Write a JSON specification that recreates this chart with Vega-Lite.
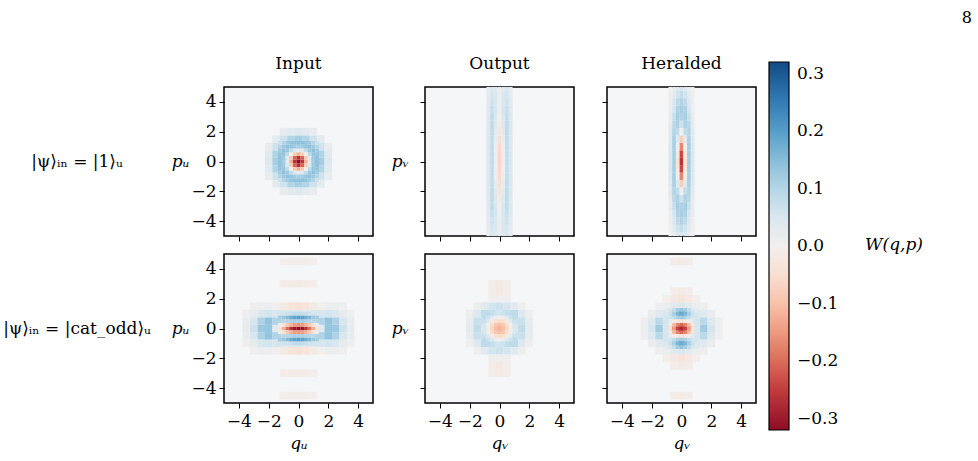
{
"$schema":"https://vega.github.io/schema/vega-lite/v6.json",
"padding":{"left":0,"top":10,"right":0,"bottom":0},
"title":{"text":"8","anchor":"end","fontSize":16,"dx":38,"offset":28},
"datasets":{
"a":[
{"q":-2,"p":0,"w":0.041},{"q":-1.5,"p":0,"w":0.117},{"q":-1,"p":0,"w":0.117},{"q":1,"p":0,"w":0.117},{"q":1.5,"p":0,"w":0.117},{"q":2,"p":0,"w":0.041},
{"q":-2,"p":0.5,"w":0.034},{"q":-1.5,"p":0.5,"w":0.104},{"q":1.5,"p":0.5,"w":0.104},{"q":2,"p":0.5,"w":0.034},
{"q":-2,"p":-0.5,"w":0.034},{"q":-1.5,"p":-0.5,"w":0.104},{"q":1.5,"p":-0.5,"w":0.104},{"q":2,"p":-0.5,"w":0.034},
{"q":-2,"p":1,"w":0.019},{"q":-1.5,"p":1,"w":0.068},{"q":1.5,"p":1,"w":0.068},{"q":2,"p":1,"w":0.019},
{"q":-2,"p":-1,"w":0.019},{"q":-1.5,"p":-1,"w":0.068},{"q":1.5,"p":-1,"w":0.068},{"q":2,"p":-1,"w":0.019},
{"q":-1.5,"p":1.5,"w":0.028},{"q":-1,"p":1.5,"w":0.068},{"q":-0.5,"p":1.5,"w":0.104},{"q":0,"p":1.5,"w":0.117},{"q":0.5,"p":1.5,"w":0.104},{"q":1,"p":1.5,"w":0.068},{"q":1.5,"p":1.5,"w":0.028},
{"q":-1.5,"p":-1.5,"w":0.028},{"q":-1,"p":-1.5,"w":0.068},{"q":-0.5,"p":-1.5,"w":0.104},{"q":0,"p":-1.5,"w":0.117},{"q":0.5,"p":-1.5,"w":0.104},{"q":1,"p":-1.5,"w":0.068},{"q":1.5,"p":-1.5,"w":0.028},
{"q":-1,"p":2,"w":0.019},{"q":-0.5,"p":2,"w":0.034},{"q":0,"p":2,"w":0.041},{"q":0.5,"p":2,"w":0.034},{"q":1,"p":2,"w":0.019},
{"q":-1,"p":-2,"w":0.019},{"q":-0.5,"p":-2,"w":0.034},{"q":0,"p":-2,"w":0.041},{"q":0.5,"p":-2,"w":0.034},{"q":1,"p":-2,"w":0.019}
],
"a2":[
{"q":-1.25,"p":0,"w":0.142},{"q":-1,"p":0,"w":0.117},{"q":-0.75,"p":0,"w":0.023},{"q":-0.5,"p":0,"w":-0.124},{"q":-0.25,"p":0,"w":-0.262},{"q":0,"p":0,"w":-0.318},{"q":0.25,"p":0,"w":-0.262},{"q":0.5,"p":0,"w":-0.124},{"q":0.75,"p":0,"w":0.023},{"q":1,"p":0,"w":0.117},{"q":1.25,"p":0,"w":0.142},
{"q":-1.25,"p":0.25,"w":0.141},{"q":-1,"p":0.25,"w":0.124},{"q":-0.75,"p":0.25,"w":0.043},{"q":-0.5,"p":0.25,"w":-0.087},{"q":-0.25,"p":0.25,"w":-0.211},{"q":0,"p":0.25,"w":-0.262},{"q":0.25,"p":0.25,"w":-0.211},{"q":0.5,"p":0.25,"w":-0.087},{"q":0.75,"p":0.25,"w":0.043},{"q":1,"p":0.25,"w":0.124},{"q":1.25,"p":0.25,"w":0.141},
{"q":-1.25,"p":-0.25,"w":0.141},{"q":-1,"p":-0.25,"w":0.124},{"q":-0.75,"p":-0.25,"w":0.043},{"q":-0.5,"p":-0.25,"w":-0.087},{"q":-0.25,"p":-0.25,"w":-0.211},{"q":0,"p":-0.25,"w":-0.262},{"q":0.25,"p":-0.25,"w":-0.211},{"q":0.5,"p":-0.25,"w":-0.087},{"q":0.75,"p":-0.25,"w":0.043},{"q":1,"p":-0.25,"w":0.124},{"q":1.25,"p":-0.25,"w":0.141},
{"q":-1.25,"p":0.5,"w":0.136},{"q":-1,"p":0.5,"w":0.137},{"q":-0.75,"p":0.5,"w":0.088},{"q":-0.5,"p":0.5,"w":0},{"q":-0.25,"p":0.5,"w":-0.087},{"q":0,"p":0.5,"w":-0.124},{"q":0.25,"p":0.5,"w":-0.087},{"q":0.5,"p":0.5,"w":0},{"q":0.75,"p":0.5,"w":0.088},{"q":1,"p":0.5,"w":0.137},{"q":1.25,"p":0.5,"w":0.136},
{"q":-1.25,"p":-0.5,"w":0.136},{"q":-1,"p":-0.5,"w":0.137},{"q":-0.75,"p":-0.5,"w":0.088},{"q":-0.5,"p":-0.5,"w":0},{"q":-0.25,"p":-0.5,"w":-0.087},{"q":0,"p":-0.5,"w":-0.124},{"q":0.25,"p":-0.5,"w":-0.087},{"q":0.5,"p":-0.5,"w":0},{"q":0.75,"p":-0.5,"w":0.088},{"q":1,"p":-0.5,"w":0.137},{"q":1.25,"p":-0.5,"w":0.136},
{"q":-1.25,"p":0.75,"w":0.124},{"q":-1,"p":0.75,"w":0.142},{"q":-0.75,"p":0.75,"w":0.129},{"q":-0.5,"p":0.75,"w":0.088},{"q":-0.25,"p":0.75,"w":0.043},{"q":0,"p":0.75,"w":0.023},{"q":0.25,"p":0.75,"w":0.043},{"q":0.5,"p":0.75,"w":0.088},{"q":0.75,"p":0.75,"w":0.129},{"q":1,"p":0.75,"w":0.142},{"q":1.25,"p":0.75,"w":0.124},
{"q":-1.25,"p":-0.75,"w":0.124},{"q":-1,"p":-0.75,"w":0.142},{"q":-0.75,"p":-0.75,"w":0.129},{"q":-0.5,"p":-0.75,"w":0.088},{"q":-0.25,"p":-0.75,"w":0.043},{"q":0,"p":-0.75,"w":0.023},{"q":0.25,"p":-0.75,"w":0.043},{"q":0.5,"p":-0.75,"w":0.088},{"q":0.75,"p":-0.75,"w":0.129},{"q":1,"p":-0.75,"w":0.142},{"q":1.25,"p":-0.75,"w":0.124},
{"q":-1.25,"p":1,"w":0.101},{"q":-1,"p":1,"w":0.129},{"q":-0.75,"p":1,"w":0.142},{"q":-0.5,"p":1,"w":0.137},{"q":-0.25,"p":1,"w":0.124},{"q":0,"p":1,"w":0.117},{"q":0.25,"p":1,"w":0.124},{"q":0.5,"p":1,"w":0.137},{"q":0.75,"p":1,"w":0.142},{"q":1,"p":1,"w":0.129},{"q":1.25,"p":1,"w":0.101},
{"q":-1.25,"p":-1,"w":0.101},{"q":-1,"p":-1,"w":0.129},{"q":-0.75,"p":-1,"w":0.142},{"q":-0.5,"p":-1,"w":0.137},{"q":-0.25,"p":-1,"w":0.124},{"q":0,"p":-1,"w":0.117},{"q":0.25,"p":-1,"w":0.124},{"q":0.5,"p":-1,"w":0.137},{"q":0.75,"p":-1,"w":0.142},{"q":1,"p":-1,"w":0.129},{"q":1.25,"p":-1,"w":0.101},
{"q":-1.25,"p":1.25,"w":0.073},{"q":-1,"p":1.25,"w":0.101},{"q":-0.75,"p":1.25,"w":0.124},{"q":-0.5,"p":1.25,"w":0.136},{"q":-0.25,"p":1.25,"w":0.141},{"q":0,"p":1.25,"w":0.142},{"q":0.25,"p":1.25,"w":0.141},{"q":0.5,"p":1.25,"w":0.136},{"q":0.75,"p":1.25,"w":0.124},{"q":1,"p":1.25,"w":0.101},{"q":1.25,"p":1.25,"w":0.073},
{"q":-1.25,"p":-1.25,"w":0.073},{"q":-1,"p":-1.25,"w":0.101},{"q":-0.75,"p":-1.25,"w":0.124},{"q":-0.5,"p":-1.25,"w":0.136},{"q":-0.25,"p":-1.25,"w":0.141},{"q":0,"p":-1.25,"w":0.142},{"q":0.25,"p":-1.25,"w":0.141},{"q":0.5,"p":-1.25,"w":0.136},{"q":0.75,"p":-1.25,"w":0.124},{"q":1,"p":-1.25,"w":0.101},{"q":1.25,"p":-1.25,"w":0.073}
],
"b":[
{"q":-0.75,"p":0,"w":0.047},{"q":-0.5,"p":0,"w":0.084},{"q":-0.25,"p":0,"w":0.006},{"q":0,"p":0,"w":-0.07},{"q":0.25,"p":0,"w":0.006},{"q":0.5,"p":0,"w":0.084},{"q":0.75,"p":0,"w":0.047},
{"q":-0.75,"p":0.5,"w":0.047},{"q":-0.5,"p":0.5,"w":0.084},{"q":-0.25,"p":0.5,"w":0.008},{"q":0,"p":0.5,"w":-0.068},{"q":0.25,"p":0.5,"w":0.008},{"q":0.5,"p":0.5,"w":0.084},{"q":0.75,"p":0.5,"w":0.047},
{"q":-0.75,"p":-0.5,"w":0.047},{"q":-0.5,"p":-0.5,"w":0.084},{"q":-0.25,"p":-0.5,"w":0.008},{"q":0,"p":-0.5,"w":-0.068},{"q":0.25,"p":-0.5,"w":0.008},{"q":0.5,"p":-0.5,"w":0.084},{"q":0.75,"p":-0.5,"w":0.047},
{"q":-0.75,"p":1,"w":0.047},{"q":-0.5,"p":1,"w":0.084},{"q":-0.25,"p":1,"w":0.012},{"q":0,"p":1,"w":-0.062},{"q":0.25,"p":1,"w":0.012},{"q":0.5,"p":1,"w":0.084},{"q":0.75,"p":1,"w":0.047},
{"q":-0.75,"p":-1,"w":0.047},{"q":-0.5,"p":-1,"w":0.084},{"q":-0.25,"p":-1,"w":0.012},{"q":0,"p":-1,"w":-0.062},{"q":0.25,"p":-1,"w":0.012},{"q":0.5,"p":-1,"w":0.084},{"q":0.75,"p":-1,"w":0.047},
{"q":-0.75,"p":1.5,"w":0.046},{"q":-0.5,"p":1.5,"w":0.085},{"q":-0.25,"p":1.5,"w":0.022},{"q":0,"p":1.5,"w":-0.05},{"q":0.25,"p":1.5,"w":0.022},{"q":0.5,"p":1.5,"w":0.085},{"q":0.75,"p":1.5,"w":0.046},
{"q":-0.75,"p":-1.5,"w":0.046},{"q":-0.5,"p":-1.5,"w":0.085},{"q":-0.25,"p":-1.5,"w":0.022},{"q":0,"p":-1.5,"w":-0.05},{"q":0.25,"p":-1.5,"w":0.022},{"q":0.5,"p":-1.5,"w":0.085},{"q":0.75,"p":-1.5,"w":0.046},
{"q":-0.75,"p":2,"w":0.046},{"q":-0.5,"p":2,"w":0.086},{"q":-0.25,"p":2,"w":0.032},{"q":0,"p":2,"w":-0.035},{"q":0.25,"p":2,"w":0.032},{"q":0.5,"p":2,"w":0.086},{"q":0.75,"p":2,"w":0.046},
{"q":-0.75,"p":-2,"w":0.046},{"q":-0.5,"p":-2,"w":0.086},{"q":-0.25,"p":-2,"w":0.032},{"q":0,"p":-2,"w":-0.035},{"q":0.25,"p":-2,"w":0.032},{"q":0.5,"p":-2,"w":0.086},{"q":0.75,"p":-2,"w":0.046},
{"q":-0.75,"p":2.5,"w":0.043},{"q":-0.5,"p":2.5,"w":0.086},{"q":-0.25,"p":2.5,"w":0.043},{"q":0,"p":2.5,"w":-0.018},{"q":0.25,"p":2.5,"w":0.043},{"q":0.5,"p":2.5,"w":0.086},{"q":0.75,"p":2.5,"w":0.043},
{"q":-0.75,"p":-2.5,"w":0.043},{"q":-0.5,"p":-2.5,"w":0.086},{"q":-0.25,"p":-2.5,"w":0.043},{"q":0,"p":-2.5,"w":-0.018},{"q":0.25,"p":-2.5,"w":0.043},{"q":0.5,"p":-2.5,"w":0.086},{"q":0.75,"p":-2.5,"w":0.043},
{"q":-0.75,"p":3,"w":0.041},{"q":-0.5,"p":3,"w":0.084},{"q":-0.25,"p":3,"w":0.05},{"q":0,"p":3,"w":-0.005},{"q":0.25,"p":3,"w":0.05},{"q":0.5,"p":3,"w":0.084},{"q":0.75,"p":3,"w":0.041},
{"q":-0.75,"p":-3,"w":0.041},{"q":-0.5,"p":-3,"w":0.084},{"q":-0.25,"p":-3,"w":0.05},{"q":0,"p":-3,"w":-0.005},{"q":0.25,"p":-3,"w":0.05},{"q":0.5,"p":-3,"w":0.084},{"q":0.75,"p":-3,"w":0.041},
{"q":-0.75,"p":3.5,"w":0.037},{"q":-0.5,"p":3.5,"w":0.077},{"q":-0.25,"p":3.5,"w":0.052},{"q":0,"p":3.5,"w":0.006},{"q":0.25,"p":3.5,"w":0.052},{"q":0.5,"p":3.5,"w":0.077},{"q":0.75,"p":3.5,"w":0.037},
{"q":-0.75,"p":-3.5,"w":0.037},{"q":-0.5,"p":-3.5,"w":0.077},{"q":-0.25,"p":-3.5,"w":0.052},{"q":0,"p":-3.5,"w":0.006},{"q":0.25,"p":-3.5,"w":0.052},{"q":0.5,"p":-3.5,"w":0.077},{"q":0.75,"p":-3.5,"w":0.037},
{"q":-0.75,"p":4,"w":0.032},{"q":-0.5,"p":4,"w":0.068},{"q":-0.25,"p":4,"w":0.049},{"q":0,"p":4,"w":0.012},{"q":0.25,"p":4,"w":0.049},{"q":0.5,"p":4,"w":0.068},{"q":0.75,"p":4,"w":0.032},
{"q":-0.75,"p":-4,"w":0.032},{"q":-0.5,"p":-4,"w":0.068},{"q":-0.25,"p":-4,"w":0.049},{"q":0,"p":-4,"w":0.012},{"q":0.25,"p":-4,"w":0.049},{"q":0.5,"p":-4,"w":0.068},{"q":0.75,"p":-4,"w":0.032},
{"q":-0.75,"p":4.5,"w":0.026},{"q":-0.5,"p":4.5,"w":0.058},{"q":-0.25,"p":4.5,"w":0.044},{"q":0,"p":4.5,"w":0.014},{"q":0.25,"p":4.5,"w":0.044},{"q":0.5,"p":4.5,"w":0.058},{"q":0.75,"p":4.5,"w":0.026},
{"q":-0.75,"p":-4.5,"w":0.026},{"q":-0.5,"p":-4.5,"w":0.058},{"q":-0.25,"p":-4.5,"w":0.044},{"q":0,"p":-4.5,"w":0.014},{"q":0.25,"p":-4.5,"w":0.044},{"q":0.5,"p":-4.5,"w":0.058},{"q":0.75,"p":-4.5,"w":0.026},
{"q":-0.75,"p":5,"w":0.023},{"q":-0.5,"p":5,"w":0.049},{"q":-0.25,"p":5,"w":0.04},{"q":0,"p":5,"w":0.014},{"q":0.25,"p":5,"w":0.04},{"q":0.5,"p":5,"w":0.049},{"q":0.75,"p":5,"w":0.023},
{"q":-0.75,"p":-5,"w":0.023},{"q":-0.5,"p":-5,"w":0.049},{"q":-0.25,"p":-5,"w":0.04},{"q":0,"p":-5,"w":0.014},{"q":0.25,"p":-5,"w":0.04},{"q":0.5,"p":-5,"w":0.049},{"q":0.75,"p":-5,"w":0.023}
],
"c":[
{"q":-0.75,"p":0,"w":0.047},{"q":-0.5,"p":0,"w":0.116},{"q":-0.25,"p":0,"w":-0.039},{"q":0,"p":0,"w":-0.261},{"q":0.25,"p":0,"w":-0.039},{"q":0.5,"p":0,"w":0.116},{"q":0.75,"p":0,"w":0.047},
{"q":-0.75,"p":0.5,"w":0.046},{"q":-0.5,"p":0.5,"w":0.116},{"q":-0.25,"p":0.5,"w":-0.027},{"q":0,"p":0.5,"w":-0.237},{"q":0.25,"p":0.5,"w":-0.027},{"q":0.5,"p":0.5,"w":0.116},{"q":0.75,"p":0.5,"w":0.046},
{"q":-0.75,"p":-0.5,"w":0.046},{"q":-0.5,"p":-0.5,"w":0.116},{"q":-0.25,"p":-0.5,"w":-0.027},{"q":0,"p":-0.5,"w":-0.237},{"q":0.25,"p":-0.5,"w":-0.027},{"q":0.5,"p":-0.5,"w":0.116},{"q":0.75,"p":-0.5,"w":0.046},
{"q":-0.75,"p":1,"w":0.043},{"q":-0.5,"p":1,"w":0.115},{"q":-0.25,"p":1,"w":0.006},{"q":0,"p":1,"w":-0.171},{"q":0.25,"p":1,"w":0.006},{"q":0.5,"p":1,"w":0.115},{"q":0.75,"p":1,"w":0.043},
{"q":-0.75,"p":-1,"w":0.043},{"q":-0.5,"p":-1,"w":0.115},{"q":-0.25,"p":-1,"w":0.006},{"q":0,"p":-1,"w":-0.171},{"q":0.25,"p":-1,"w":0.006},{"q":0.5,"p":-1,"w":0.115},{"q":0.75,"p":-1,"w":0.043},
{"q":-0.75,"p":1.5,"w":0.039},{"q":-0.5,"p":1.5,"w":0.111},{"q":-0.25,"p":1.5,"w":0.047},{"q":0,"p":1.5,"w":-0.083},{"q":0.25,"p":1.5,"w":0.047},{"q":0.5,"p":1.5,"w":0.111},{"q":0.75,"p":1.5,"w":0.039},
{"q":-0.75,"p":-1.5,"w":0.039},{"q":-0.5,"p":-1.5,"w":0.111},{"q":-0.25,"p":-1.5,"w":0.047},{"q":0,"p":-1.5,"w":-0.083},{"q":0.25,"p":-1.5,"w":0.047},{"q":0.5,"p":-1.5,"w":0.111},{"q":0.75,"p":-1.5,"w":0.039},
{"q":-0.75,"p":2,"w":0.033},{"q":-0.5,"p":2,"w":0.103},{"q":-0.25,"p":2,"w":0.085},{"q":0,"p":2,"w":0.003},{"q":0.25,"p":2,"w":0.085},{"q":0.5,"p":2,"w":0.103},{"q":0.75,"p":2,"w":0.033},
{"q":-0.75,"p":-2,"w":0.033},{"q":-0.5,"p":-2,"w":0.103},{"q":-0.25,"p":-2,"w":0.085},{"q":0,"p":-2,"w":0.003},{"q":0.25,"p":-2,"w":0.085},{"q":0.5,"p":-2,"w":0.103},{"q":0.75,"p":-2,"w":0.033},
{"q":-0.75,"p":2.5,"w":0.027},{"q":-0.5,"p":2.5,"w":0.092},{"q":-0.25,"p":2.5,"w":0.11},{"q":0,"p":2.5,"w":0.07},{"q":0.25,"p":2.5,"w":0.11},{"q":0.5,"p":2.5,"w":0.092},{"q":0.75,"p":2.5,"w":0.027},
{"q":-0.75,"p":-2.5,"w":0.027},{"q":-0.5,"p":-2.5,"w":0.092},{"q":-0.25,"p":-2.5,"w":0.11},{"q":0,"p":-2.5,"w":0.07},{"q":0.25,"p":-2.5,"w":0.11},{"q":0.5,"p":-2.5,"w":0.092},{"q":0.75,"p":-2.5,"w":0.027},
{"q":-0.75,"p":3,"w":0.021},{"q":-0.5,"p":3,"w":0.077},{"q":-0.25,"p":3,"w":0.116},{"q":0,"p":3,"w":0.107},{"q":0.25,"p":3,"w":0.116},{"q":0.5,"p":3,"w":0.077},{"q":0.75,"p":3,"w":0.021},
{"q":-0.75,"p":-3,"w":0.021},{"q":-0.5,"p":-3,"w":0.077},{"q":-0.25,"p":-3,"w":0.116},{"q":0,"p":-3,"w":0.107},{"q":0.25,"p":-3,"w":0.116},{"q":0.5,"p":-3,"w":0.077},{"q":0.75,"p":-3,"w":0.021},
{"q":-0.75,"p":3.5,"w":0.015},{"q":-0.5,"p":3.5,"w":0.06},{"q":-0.25,"p":3.5,"w":0.108},{"q":0,"p":3.5,"w":0.116},{"q":0.25,"p":3.5,"w":0.108},{"q":0.5,"p":3.5,"w":0.06},{"q":0.75,"p":3.5,"w":0.015},
{"q":-0.75,"p":-3.5,"w":0.015},{"q":-0.5,"p":-3.5,"w":0.06},{"q":-0.25,"p":-3.5,"w":0.108},{"q":0,"p":-3.5,"w":0.116},{"q":0.25,"p":-3.5,"w":0.108},{"q":0.5,"p":-3.5,"w":0.06},{"q":0.75,"p":-3.5,"w":0.015},
{"q":-0.75,"p":4,"w":0.01},{"q":-0.5,"p":4,"w":0.044},{"q":-0.25,"p":4,"w":0.089},{"q":0,"p":4,"w":0.105},{"q":0.25,"p":4,"w":0.089},{"q":0.5,"p":4,"w":0.044},{"q":0.75,"p":4,"w":0.01},
{"q":-0.75,"p":-4,"w":0.01},{"q":-0.5,"p":-4,"w":0.044},{"q":-0.25,"p":-4,"w":0.089},{"q":0,"p":-4,"w":0.105},{"q":0.25,"p":-4,"w":0.089},{"q":0.5,"p":-4,"w":0.044},{"q":0.75,"p":-4,"w":0.01},
{"q":-0.75,"p":4.5,"w":0.007},{"q":-0.5,"p":4.5,"w":0.03},{"q":-0.25,"p":4.5,"w":0.066},{"q":0,"p":4.5,"w":0.082},{"q":0.25,"p":4.5,"w":0.066},{"q":0.5,"p":4.5,"w":0.03},{"q":0.75,"p":4.5,"w":0.007},
{"q":-0.75,"p":-4.5,"w":0.007},{"q":-0.5,"p":-4.5,"w":0.03},{"q":-0.25,"p":-4.5,"w":0.066},{"q":0,"p":-4.5,"w":0.082},{"q":0.25,"p":-4.5,"w":0.066},{"q":0.5,"p":-4.5,"w":0.03},{"q":0.75,"p":-4.5,"w":0.007},
{"q":-0.75,"p":5,"w":0.004},{"q":-0.5,"p":5,"w":0.019},{"q":-0.25,"p":5,"w":0.045},{"q":0,"p":5,"w":0.058},{"q":0.25,"p":5,"w":0.045},{"q":0.5,"p":5,"w":0.019},{"q":0.75,"p":5,"w":0.004},
{"q":-0.75,"p":-5,"w":0.004},{"q":-0.5,"p":-5,"w":0.019},{"q":-0.25,"p":-5,"w":0.045},{"q":0,"p":-5,"w":0.058},{"q":0.25,"p":-5,"w":0.045},{"q":0.5,"p":-5,"w":0.019},{"q":0.75,"p":-5,"w":0.004}
],
"d":[
{"q":-3.5,"p":0,"w":0.023},{"q":-3,"p":0,"w":0.07},{"q":-2.5,"p":0,"w":0.13},{"q":-2,"p":0,"w":0.134},{"q":-1.5,"p":0,"w":0.034},{"q":1.5,"p":0,"w":0.034},{"q":2,"p":0,"w":0.134},{"q":2.5,"p":0,"w":0.13},{"q":3,"p":0,"w":0.07},{"q":3.5,"p":0,"w":0.023},
{"q":-3.5,"p":0.5,"w":0.018},{"q":-3,"p":0.5,"w":0.055},{"q":-2.5,"p":0.5,"w":0.109},{"q":-2,"p":0.5,"w":0.137},{"q":-1.5,"p":0.5,"w":0.105},{"q":1.5,"p":0.5,"w":0.105},{"q":2,"p":0.5,"w":0.137},{"q":2.5,"p":0.5,"w":0.109},{"q":3,"p":0.5,"w":0.055},{"q":3.5,"p":0.5,"w":0.018},
{"q":-3.5,"p":-0.5,"w":0.018},{"q":-3,"p":-0.5,"w":0.055},{"q":-2.5,"p":-0.5,"w":0.109},{"q":-2,"p":-0.5,"w":0.137},{"q":-1.5,"p":-0.5,"w":0.105},{"q":1.5,"p":-0.5,"w":0.105},{"q":2,"p":-0.5,"w":0.137},{"q":2.5,"p":-0.5,"w":0.109},{"q":3,"p":-0.5,"w":0.055},{"q":3.5,"p":-0.5,"w":0.018},
{"q":-3.5,"p":1,"w":0.008},{"q":-3,"p":1,"w":0.026},{"q":-2.5,"p":1,"w":0.05},{"q":-2,"p":1,"w":0.063},{"q":-1.5,"p":1,"w":0.053},{"q":-1,"p":1,"w":0.044},{"q":-0.5,"p":1,"w":0.045},{"q":0,"p":1,"w":0.05},{"q":0.5,"p":1,"w":0.045},{"q":1,"p":1,"w":0.044},{"q":1.5,"p":1,"w":0.053},{"q":2,"p":1,"w":0.063},{"q":2.5,"p":1,"w":0.05},{"q":3,"p":1,"w":0.026},{"q":3.5,"p":1,"w":0.008},
{"q":-3.5,"p":-1,"w":0.008},{"q":-3,"p":-1,"w":0.026},{"q":-2.5,"p":-1,"w":0.05},{"q":-2,"p":-1,"w":0.063},{"q":-1.5,"p":-1,"w":0.053},{"q":-1,"p":-1,"w":0.044},{"q":-0.5,"p":-1,"w":0.045},{"q":0,"p":-1,"w":0.05},{"q":0.5,"p":-1,"w":0.045},{"q":1,"p":-1,"w":0.044},{"q":1.5,"p":-1,"w":0.053},{"q":2,"p":-1,"w":0.063},{"q":2.5,"p":-1,"w":0.05},{"q":3,"p":-1,"w":0.026},{"q":3.5,"p":-1,"w":0.008},
{"q":-3,"p":1.5,"w":0.007},{"q":-2.5,"p":1.5,"w":0.014},{"q":-2,"p":1.5,"w":0.013},{"q":-1.5,"p":1.5,"w":0.002},{"q":-1,"p":1.5,"w":-0.017},{"q":-0.5,"p":1.5,"w":-0.034},{"q":0,"p":1.5,"w":-0.041},{"q":0.5,"p":1.5,"w":-0.034},{"q":1,"p":1.5,"w":-0.017},{"q":1.5,"p":1.5,"w":0.002},{"q":2,"p":1.5,"w":0.013},{"q":2.5,"p":1.5,"w":0.014},{"q":3,"p":1.5,"w":0.007},
{"q":-3,"p":-1.5,"w":0.007},{"q":-2.5,"p":-1.5,"w":0.014},{"q":-2,"p":-1.5,"w":0.013},{"q":-1.5,"p":-1.5,"w":0.002},{"q":-1,"p":-1.5,"w":-0.017},{"q":-0.5,"p":-1.5,"w":-0.034},{"q":0,"p":-1.5,"w":-0.041},{"q":0.5,"p":-1.5,"w":-0.034},{"q":1,"p":-1.5,"w":-0.017},{"q":1.5,"p":-1.5,"w":0.002},{"q":2,"p":-1.5,"w":0.013},{"q":2.5,"p":-1.5,"w":0.014},{"q":3,"p":-1.5,"w":0.007},
{"q":-1,"p":3,"w":-0.009},{"q":-0.5,"p":3,"w":-0.014},{"q":0,"p":3,"w":-0.016},{"q":0.5,"p":3,"w":-0.014},{"q":1,"p":3,"w":-0.009},
{"q":-1,"p":-3,"w":-0.009},{"q":-0.5,"p":-3,"w":-0.014},{"q":0,"p":-3,"w":-0.016},{"q":0.5,"p":-3,"w":-0.014},{"q":1,"p":-3,"w":-0.009},
{"q":-1,"p":4.5,"w":-0.005},{"q":-0.5,"p":4.5,"w":-0.008},{"q":0,"p":4.5,"w":-0.01},{"q":0.5,"p":4.5,"w":-0.008},{"q":1,"p":4.5,"w":-0.005},
{"q":-1,"p":-4.5,"w":-0.005},{"q":-0.5,"p":-4.5,"w":-0.008},{"q":0,"p":-4.5,"w":-0.01},{"q":0.5,"p":-4.5,"w":-0.008},{"q":1,"p":-4.5,"w":-0.005}
],
"d2":[
{"q":-1.25,"p":0,"w":-0.043},{"q":-1,"p":0,"w":-0.124},{"q":-0.75,"p":0,"w":-0.199},{"q":-0.5,"p":0,"w":-0.261},{"q":-0.25,"p":0,"w":-0.302},{"q":0,"p":0,"w":-0.316},{"q":0.25,"p":0,"w":-0.302},{"q":0.5,"p":0,"w":-0.261},{"q":0.75,"p":0,"w":-0.199},{"q":1,"p":0,"w":-0.124},{"q":1.25,"p":0,"w":-0.043},
{"q":-1.25,"p":0.25,"w":0.013},{"q":-1,"p":0.25,"w":-0.041},{"q":-0.75,"p":0.25,"w":-0.088},{"q":-0.5,"p":0.25,"w":-0.125},{"q":-0.25,"p":0.25,"w":-0.148},{"q":0,"p":0.25,"w":-0.156},{"q":0.25,"p":0.25,"w":-0.148},{"q":0.5,"p":0.25,"w":-0.125},{"q":0.75,"p":0.25,"w":-0.088},{"q":1,"p":0.25,"w":-0.041},{"q":1.25,"p":0.25,"w":0.013},
{"q":-1.25,"p":-0.25,"w":0.013},{"q":-1,"p":-0.25,"w":-0.041},{"q":-0.75,"p":-0.25,"w":-0.088},{"q":-0.5,"p":-0.25,"w":-0.125},{"q":-0.25,"p":-0.25,"w":-0.148},{"q":0,"p":-0.25,"w":-0.156},{"q":0.25,"p":-0.25,"w":-0.148},{"q":0.5,"p":-0.25,"w":-0.125},{"q":0.75,"p":-0.25,"w":-0.088},{"q":1,"p":-0.25,"w":-0.041},{"q":1.25,"p":-0.25,"w":0.013},
{"q":-1.25,"p":0.5,"w":0.103},{"q":-1,"p":0.5,"w":0.097},{"q":-0.75,"p":0.5,"w":0.099},{"q":-0.5,"p":0.5,"w":0.106},{"q":-0.25,"p":0.5,"w":0.113},{"q":0,"p":0.5,"w":0.115},{"q":0.25,"p":0.5,"w":0.113},{"q":0.5,"p":0.5,"w":0.106},{"q":0.75,"p":0.5,"w":0.099},{"q":1,"p":0.5,"w":0.097},{"q":1.25,"p":0.5,"w":0.103},
{"q":-1.25,"p":-0.5,"w":0.103},{"q":-1,"p":-0.5,"w":0.097},{"q":-0.75,"p":-0.5,"w":0.099},{"q":-0.5,"p":-0.5,"w":0.106},{"q":-0.25,"p":-0.5,"w":0.113},{"q":0,"p":-0.5,"w":0.115},{"q":0.25,"p":-0.5,"w":0.113},{"q":0.5,"p":-0.5,"w":0.106},{"q":0.75,"p":-0.5,"w":0.099},{"q":1,"p":-0.5,"w":0.097},{"q":1.25,"p":-0.5,"w":0.103},
{"q":-1.25,"p":0.75,"w":0.118},{"q":-1,"p":0.75,"w":0.132},{"q":-0.75,"p":0.75,"w":0.152},{"q":-0.5,"p":0.75,"w":0.174},{"q":-0.25,"p":0.75,"w":0.191},{"q":0,"p":0.75,"w":0.197},{"q":0.25,"p":0.75,"w":0.191},{"q":0.5,"p":0.75,"w":0.174},{"q":0.75,"p":0.75,"w":0.152},{"q":1,"p":0.75,"w":0.132},{"q":1.25,"p":0.75,"w":0.118},
{"q":-1.25,"p":-0.75,"w":0.118},{"q":-1,"p":-0.75,"w":0.132},{"q":-0.75,"p":-0.75,"w":0.152},{"q":-0.5,"p":-0.75,"w":0.174},{"q":-0.25,"p":-0.75,"w":0.191},{"q":0,"p":-0.75,"w":0.197},{"q":0.25,"p":-0.75,"w":0.191},{"q":0.5,"p":-0.75,"w":0.174},{"q":0.75,"p":-0.75,"w":0.152},{"q":1,"p":-0.75,"w":0.132},{"q":1.25,"p":-0.75,"w":0.118},
{"q":-1.25,"p":1,"w":0.061},{"q":-1,"p":1,"w":0.063},{"q":-0.75,"p":1,"w":0.069},{"q":-0.5,"p":1,"w":0.077},{"q":-0.25,"p":1,"w":0.084},{"q":0,"p":1,"w":0.086},{"q":0.25,"p":1,"w":0.084},{"q":0.5,"p":1,"w":0.077},{"q":0.75,"p":1,"w":0.069},{"q":1,"p":1,"w":0.063},{"q":1.25,"p":1,"w":0.061},
{"q":-1.25,"p":-1,"w":0.061},{"q":-1,"p":-1,"w":0.063},{"q":-0.75,"p":-1,"w":0.069},{"q":-0.5,"p":-1,"w":0.077},{"q":-0.25,"p":-1,"w":0.084},{"q":0,"p":-1,"w":0.086},{"q":0.25,"p":-1,"w":0.084},{"q":0.5,"p":-1,"w":0.077},{"q":0.75,"p":-1,"w":0.069},{"q":1,"p":-1,"w":0.063},{"q":1.25,"p":-1,"w":0.061}
],
"e":[
{"q":-2,"p":0,"w":0.025},{"q":-1.5,"p":0,"w":0.084},{"q":-1,"p":0,"w":0.047},{"q":-0.5,"p":0,"w":-0.069},{"q":0,"p":0,"w":-0.119},{"q":0.5,"p":0,"w":-0.069},{"q":1,"p":0,"w":0.047},{"q":1.5,"p":0,"w":0.084},{"q":2,"p":0,"w":0.025},
{"q":-2,"p":0.5,"w":0.018},{"q":-1.5,"p":0.5,"w":0.075},{"q":-1,"p":0.5,"w":0.073},{"q":-0.5,"p":0.5,"w":-0.017},{"q":0,"p":0.5,"w":-0.061},{"q":0.5,"p":0.5,"w":-0.017},{"q":1,"p":0.5,"w":0.073},{"q":1.5,"p":0.5,"w":0.075},{"q":2,"p":0.5,"w":0.018},
{"q":-2,"p":-0.5,"w":0.018},{"q":-1.5,"p":-0.5,"w":0.075},{"q":-1,"p":-0.5,"w":0.073},{"q":-0.5,"p":-0.5,"w":-0.017},{"q":0,"p":-0.5,"w":-0.061},{"q":0.5,"p":-0.5,"w":-0.017},{"q":1,"p":-0.5,"w":0.073},{"q":1.5,"p":-0.5,"w":0.075},{"q":2,"p":-0.5,"w":0.018},
{"q":-2,"p":1,"w":0.007},{"q":-1.5,"p":1,"w":0.041},{"q":-1,"p":1,"w":0.086},{"q":-0.5,"p":1,"w":0.08},{"q":0,"p":1,"w":0.063},{"q":0.5,"p":1,"w":0.08},{"q":1,"p":1,"w":0.086},{"q":1.5,"p":1,"w":0.041},{"q":2,"p":1,"w":0.007},
{"q":-2,"p":-1,"w":0.007},{"q":-1.5,"p":-1,"w":0.041},{"q":-1,"p":-1,"w":0.086},{"q":-0.5,"p":-1,"w":0.08},{"q":0,"p":-1,"w":0.063},{"q":0.5,"p":-1,"w":0.08},{"q":1,"p":-1,"w":0.086},{"q":1.5,"p":-1,"w":0.041},{"q":2,"p":-1,"w":0.007},
{"q":-1.5,"p":1.5,"w":0.009},{"q":-1,"p":1.5,"w":0.034},{"q":-0.5,"p":1.5,"w":0.062},{"q":0,"p":1.5,"w":0.071},{"q":0.5,"p":1.5,"w":0.062},{"q":1,"p":1.5,"w":0.034},{"q":1.5,"p":1.5,"w":0.009},
{"q":-1.5,"p":-1.5,"w":0.009},{"q":-1,"p":-1.5,"w":0.034},{"q":-0.5,"p":-1.5,"w":0.062},{"q":0,"p":-1.5,"w":0.071},{"q":0.5,"p":-1.5,"w":0.062},{"q":1,"p":-1.5,"w":0.034},{"q":1.5,"p":-1.5,"w":0.009},
{"q":-0.5,"p":2,"w":0.008},{"q":0,"p":2,"w":0.009},{"q":0.5,"p":2,"w":0.008},
{"q":-0.5,"p":-2,"w":0.008},{"q":0,"p":-2,"w":0.009},{"q":0.5,"p":-2,"w":0.008},
{"q":-0.5,"p":2.5,"w":-0.011},{"q":0,"p":2.5,"w":-0.024},{"q":0.5,"p":2.5,"w":-0.011},
{"q":-0.5,"p":-2.5,"w":-0.011},{"q":0,"p":-2.5,"w":-0.024},{"q":0.5,"p":-2.5,"w":-0.011},
{"q":-0.5,"p":3,"w":-0.008},{"q":0,"p":3,"w":-0.019},{"q":0.5,"p":3,"w":-0.008},
{"q":-0.5,"p":-3,"w":-0.008},{"q":0,"p":-3,"w":-0.019},{"q":0.5,"p":-3,"w":-0.008}
],
"e2":[
{"q":-1,"p":0,"w":0.047},{"q":-0.75,"p":0,"w":-0.013},{"q":-0.5,"p":0,"w":-0.069},{"q":-0.25,"p":0,"w":-0.106},{"q":0,"p":0,"w":-0.119},{"q":0.25,"p":0,"w":-0.106},{"q":0.5,"p":0,"w":-0.069},{"q":0.75,"p":0,"w":-0.013},{"q":1,"p":0,"w":0.047},
{"q":-1,"p":0.25,"w":0.055},{"q":-0.75,"p":0.25,"w":-0.001},{"q":-0.5,"p":0.25,"w":-0.055},{"q":-0.25,"p":0.25,"w":-0.091},{"q":0,"p":0.25,"w":-0.103},{"q":0.25,"p":0.25,"w":-0.091},{"q":0.5,"p":0.25,"w":-0.055},{"q":0.75,"p":0.25,"w":-0.001},{"q":1,"p":0.25,"w":0.055},
{"q":-1,"p":-0.25,"w":0.055},{"q":-0.75,"p":-0.25,"w":-0.001},{"q":-0.5,"p":-0.25,"w":-0.055},{"q":-0.25,"p":-0.25,"w":-0.091},{"q":0,"p":-0.25,"w":-0.103},{"q":0.25,"p":-0.25,"w":-0.091},{"q":0.5,"p":-0.25,"w":-0.055},{"q":0.75,"p":-0.25,"w":-0.001},{"q":1,"p":-0.25,"w":0.055},
{"q":-1,"p":0.5,"w":0.073},{"q":-0.75,"p":0.5,"w":0.03},{"q":-0.5,"p":0.5,"w":-0.017},{"q":-0.25,"p":0.5,"w":-0.049},{"q":0,"p":0.5,"w":-0.061},{"q":0.25,"p":0.5,"w":-0.049},{"q":0.5,"p":0.5,"w":-0.017},{"q":0.75,"p":0.5,"w":0.03},{"q":1,"p":0.5,"w":0.073},
{"q":-1,"p":-0.5,"w":0.073},{"q":-0.75,"p":-0.5,"w":0.03},{"q":-0.5,"p":-0.5,"w":-0.017},{"q":-0.25,"p":-0.5,"w":-0.049},{"q":0,"p":-0.5,"w":-0.061},{"q":0.25,"p":-0.5,"w":-0.049},{"q":0.5,"p":-0.5,"w":-0.017},{"q":0.75,"p":-0.5,"w":0.03},{"q":1,"p":-0.5,"w":0.073},
{"q":-1,"p":0.75,"w":0.088},{"q":-0.75,"p":0.75,"w":0.068},{"q":-0.5,"p":0.75,"w":0.037},{"q":-0.25,"p":0.75,"w":0.012},{"q":0,"p":0.75,"w":0.002},{"q":0.25,"p":0.75,"w":0.012},{"q":0.5,"p":0.75,"w":0.037},{"q":0.75,"p":0.75,"w":0.068},{"q":1,"p":0.75,"w":0.088},
{"q":-1,"p":-0.75,"w":0.088},{"q":-0.75,"p":-0.75,"w":0.068},{"q":-0.5,"p":-0.75,"w":0.037},{"q":-0.25,"p":-0.75,"w":0.012},{"q":0,"p":-0.75,"w":0.002},{"q":0.25,"p":-0.75,"w":0.012},{"q":0.5,"p":-0.75,"w":0.037},{"q":0.75,"p":-0.75,"w":0.068},{"q":1,"p":-0.75,"w":0.088},
{"q":-1,"p":1,"w":0.086},{"q":-0.75,"p":1,"w":0.089},{"q":-0.5,"p":1,"w":0.08},{"q":-0.25,"p":1,"w":0.069},{"q":0,"p":1,"w":0.063},{"q":0.25,"p":1,"w":0.069},{"q":0.5,"p":1,"w":0.08},{"q":0.75,"p":1,"w":0.089},{"q":1,"p":1,"w":0.086},
{"q":-1,"p":-1,"w":0.086},{"q":-0.75,"p":-1,"w":0.089},{"q":-0.5,"p":-1,"w":0.08},{"q":-0.25,"p":-1,"w":0.069},{"q":0,"p":-1,"w":0.063},{"q":0.25,"p":-1,"w":0.069},{"q":0.5,"p":-1,"w":0.08},{"q":0.75,"p":-1,"w":0.089},{"q":1,"p":-1,"w":0.086}
],
"f":[
{"q":-2.5,"p":0,"w":0.009},{"q":-2,"p":0,"w":0.058},{"q":-1.5,"p":0,"w":0.124},{"q":-1,"p":0,"w":0.053},{"q":-0.5,"p":0,"w":-0.15},{"q":0,"p":0,"w":-0.28},{"q":0.5,"p":0,"w":-0.15},{"q":1,"p":0,"w":0.053},{"q":1.5,"p":0,"w":0.124},{"q":2,"p":0,"w":0.058},{"q":2.5,"p":0,"w":0.009},
{"q":-2.5,"p":0.5,"w":0.006},{"q":-2,"p":0.5,"w":0.043},{"q":-1.5,"p":0.5,"w":0.093},{"q":-1,"p":0.5,"w":0.063},{"q":-0.5,"p":0.5,"w":-0.03},{"q":0,"p":0.5,"w":-0.08},{"q":0.5,"p":0.5,"w":-0.03},{"q":1,"p":0.5,"w":0.063},{"q":1.5,"p":0.5,"w":0.093},{"q":2,"p":0.5,"w":0.043},{"q":2.5,"p":0.5,"w":0.006},
{"q":-2.5,"p":-0.5,"w":0.006},{"q":-2,"p":-0.5,"w":0.043},{"q":-1.5,"p":-0.5,"w":0.093},{"q":-1,"p":-0.5,"w":0.063},{"q":-0.5,"p":-0.5,"w":-0.03},{"q":0,"p":-0.5,"w":-0.08},{"q":0.5,"p":-0.5,"w":-0.03},{"q":1,"p":-0.5,"w":0.063},{"q":1.5,"p":-0.5,"w":0.093},{"q":2,"p":-0.5,"w":0.043},{"q":2.5,"p":-0.5,"w":0.006},
{"q":-2,"p":1,"w":0.017},{"q":-1.5,"p":1,"w":0.038},{"q":-1,"p":1,"w":0.05},{"q":-0.5,"p":1,"w":0.115},{"q":0,"p":1,"w":0.18},{"q":0.5,"p":1,"w":0.115},{"q":1,"p":1,"w":0.05},{"q":1.5,"p":1,"w":0.038},{"q":2,"p":1,"w":0.017},
{"q":-2,"p":-1,"w":0.017},{"q":-1.5,"p":-1,"w":0.038},{"q":-1,"p":-1,"w":0.05},{"q":-0.5,"p":-1,"w":0.115},{"q":0,"p":-1,"w":0.18},{"q":0.5,"p":-1,"w":0.115},{"q":1,"p":-1,"w":0.05},{"q":1.5,"p":-1,"w":0.038},{"q":2,"p":-1,"w":0.017},
{"q":-1.5,"p":1.5,"w":0.008},{"q":-1,"p":1.5,"w":0.012},{"q":-0.5,"p":1.5,"w":0.029},{"q":0,"p":1.5,"w":0.045},{"q":0.5,"p":1.5,"w":0.029},{"q":1,"p":1.5,"w":0.012},{"q":1.5,"p":1.5,"w":0.008},
{"q":-1.5,"p":-1.5,"w":0.008},{"q":-1,"p":-1.5,"w":0.012},{"q":-0.5,"p":-1.5,"w":0.029},{"q":0,"p":-1.5,"w":0.045},{"q":0.5,"p":-1.5,"w":0.029},{"q":1,"p":-1.5,"w":0.012},{"q":1.5,"p":-1.5,"w":0.008},
{"q":-1,"p":2,"w":-0.005},{"q":-0.5,"p":2,"w":-0.021},{"q":0,"p":2,"w":-0.035},{"q":0.5,"p":2,"w":-0.021},{"q":1,"p":2,"w":-0.005},
{"q":-1,"p":-2,"w":-0.005},{"q":-0.5,"p":-2,"w":-0.021},{"q":0,"p":-2,"w":-0.035},{"q":0.5,"p":-2,"w":-0.021},{"q":1,"p":-2,"w":-0.005},
{"q":-0.5,"p":2.5,"w":-0.009},{"q":0,"p":2.5,"w":-0.015},{"q":0.5,"p":2.5,"w":-0.009},
{"q":-0.5,"p":-2.5,"w":-0.009},{"q":0,"p":-2.5,"w":-0.015},{"q":0.5,"p":-2.5,"w":-0.009},
{"q":-0.5,"p":4.5,"w":-0.007},{"q":0,"p":4.5,"w":-0.012},{"q":0.5,"p":4.5,"w":-0.007},
{"q":-0.5,"p":-4.5,"w":-0.007},{"q":0,"p":-4.5,"w":-0.012},{"q":0.5,"p":-4.5,"w":-0.007}
],
"f2":[
{"q":-1,"p":0,"w":0.053},{"q":-0.75,"p":0,"w":-0.041},{"q":-0.5,"p":0,"w":-0.15},{"q":-0.25,"p":0,"w":-0.243},{"q":0,"p":0,"w":-0.28},{"q":0.25,"p":0,"w":-0.243},{"q":0.5,"p":0,"w":-0.15},{"q":0.75,"p":0,"w":-0.041},{"q":1,"p":0,"w":0.053},
{"q":-1,"p":0.25,"w":0.056},{"q":-0.75,"p":0.25,"w":-0.021},{"q":-0.5,"p":0.25,"w":-0.106},{"q":-0.25,"p":0.25,"w":-0.177},{"q":0,"p":0.25,"w":-0.205},{"q":0.25,"p":0.25,"w":-0.177},{"q":0.5,"p":0.25,"w":-0.106},{"q":0.75,"p":0.25,"w":-0.021},{"q":1,"p":0.25,"w":0.056},
{"q":-1,"p":-0.25,"w":0.056},{"q":-0.75,"p":-0.25,"w":-0.021},{"q":-0.5,"p":-0.25,"w":-0.106},{"q":-0.25,"p":-0.25,"w":-0.177},{"q":0,"p":-0.25,"w":-0.205},{"q":0.25,"p":-0.25,"w":-0.177},{"q":0.5,"p":-0.25,"w":-0.106},{"q":0.75,"p":-0.25,"w":-0.021},{"q":1,"p":-0.25,"w":0.056},
{"q":-1,"p":0.5,"w":0.062},{"q":-0.75,"p":0.5,"w":0.026},{"q":-0.5,"p":0.5,"w":-0.006},{"q":-0.25,"p":0.5,"w":-0.026},{"q":0,"p":0.5,"w":-0.033},{"q":0.25,"p":0.5,"w":-0.026},{"q":0.5,"p":0.5,"w":-0.006},{"q":0.75,"p":0.5,"w":0.026},{"q":1,"p":0.5,"w":0.062},
{"q":-1,"p":-0.5,"w":0.062},{"q":-0.75,"p":-0.5,"w":0.026},{"q":-0.5,"p":-0.5,"w":-0.006},{"q":-0.25,"p":-0.5,"w":-0.026},{"q":0,"p":-0.5,"w":-0.033},{"q":0.25,"p":-0.5,"w":-0.026},{"q":0.5,"p":-0.5,"w":-0.006},{"q":0.75,"p":-0.5,"w":0.026},{"q":1,"p":-0.5,"w":0.062},
{"q":-1,"p":0.75,"w":0.061},{"q":-0.75,"p":0.75,"w":0.065},{"q":-0.5,"p":0.75,"w":0.084},{"q":-0.25,"p":0.75,"w":0.111},{"q":0,"p":0.75,"w":0.123},{"q":0.25,"p":0.75,"w":0.111},{"q":0.5,"p":0.75,"w":0.084},{"q":0.75,"p":0.75,"w":0.065},{"q":1,"p":0.75,"w":0.061},
{"q":-1,"p":-0.75,"w":0.061},{"q":-0.75,"p":-0.75,"w":0.065},{"q":-0.5,"p":-0.75,"w":0.084},{"q":-0.25,"p":-0.75,"w":0.111},{"q":0,"p":-0.75,"w":0.123},{"q":0.25,"p":-0.75,"w":0.111},{"q":0.5,"p":-0.75,"w":0.084},{"q":0.75,"p":-0.75,"w":0.065},{"q":1,"p":-0.75,"w":0.061},
{"q":-1,"p":1,"w":0.05},{"q":-0.75,"p":1,"w":0.073},{"q":-0.5,"p":1,"w":0.115},{"q":-0.25,"p":1,"w":0.16},{"q":0,"p":1,"w":0.18},{"q":0.25,"p":1,"w":0.16},{"q":0.5,"p":1,"w":0.115},{"q":0.75,"p":1,"w":0.073},{"q":1,"p":1,"w":0.05},
{"q":-1,"p":-1,"w":0.05},{"q":-0.75,"p":-1,"w":0.073},{"q":-0.5,"p":-1,"w":0.115},{"q":-0.25,"p":-1,"w":0.16},{"q":0,"p":-1,"w":0.18},{"q":0.25,"p":-1,"w":0.16},{"q":0.5,"p":-1,"w":0.115},{"q":0.75,"p":-1,"w":0.073},{"q":1,"p":-1,"w":0.05},
{"q":-1,"p":1.25,"w":0.031},{"q":-0.75,"p":1.25,"w":0.051},{"q":-0.5,"p":1.25,"w":0.084},{"q":-0.25,"p":1.25,"w":0.119},{"q":0,"p":1.25,"w":0.135},{"q":0.25,"p":1.25,"w":0.119},{"q":0.5,"p":1.25,"w":0.084},{"q":0.75,"p":1.25,"w":0.051},{"q":1,"p":1.25,"w":0.031},
{"q":-1,"p":-1.25,"w":0.031},{"q":-0.75,"p":-1.25,"w":0.051},{"q":-0.5,"p":-1.25,"w":0.084},{"q":-0.25,"p":-1.25,"w":0.119},{"q":0,"p":-1.25,"w":0.135},{"q":0.25,"p":-1.25,"w":0.119},{"q":0.5,"p":-1.25,"w":0.084},{"q":0.75,"p":-1.25,"w":0.051},{"q":1,"p":-1.25,"w":0.031}
]
},
"hconcat":[
{"vconcat":[
{"hconcat":[
{"width":154,"height":149,"view":{"stroke":null,"fill":null},"data":{"values":[{"t":"|ψ⟩ᵢₙ = |1⟩ᵤ"}]},"mark":{"type":"text","fontSize":17},"encoding":{"text":{"field":"t","type":"nominal"}}},
{"width":149,"height":149,"title":"Input",
"layer":[{"data":{"name":"a"},"mark":{"type":"rect","width":7.6,"height":7.6,"clip":true}},{"data":{"name":"a2"},"mark":{"type":"rect","width":3.8,"height":3.8,"clip":true}}],
"encoding":{"x":{"field":"q","type":"quantitative","scale":{"domain":[-5,5],"nice":false},"axis":{"values":[-4,-2,0,2,4],"labels":false,"title":null}},
"y":{"field":"p","type":"quantitative","scale":{"domain":[-5,5],"nice":false},"axis":{"values":[-4,-2,0,2,4],"title":"pᵤ","titlePadding":2}},
"color":{"field":"w","type":"quantitative","scale":{"domain":[-0.32,0.32],"scheme":"redblue"},"legend":{"orient":"none","legendX":769,"legendY":-25,"title":null,"values":[-0.3,-0.2,-0.1,0,0.1,0.2,0.3],"format":".1f","labelOffset":8,"labelExpr":"datum.value < 0 ? datum.label : '  ' + datum.label"}}}},
{"hconcat":[
{"width":149,"height":149,"title":"Output","data":{"name":"b"},"mark":{"type":"rect","width":3.8,"height":7.6,"clip":true},
"encoding":{"x":{"field":"q","type":"quantitative","scale":{"domain":[-5,5],"nice":false},"axis":{"values":[-4,-2,0,2,4],"labels":false,"title":null}},
"y":{"field":"p","type":"quantitative","scale":{"domain":[-5,5],"nice":false},"axis":{"values":[-4,-2,0,2,4],"labels":false,"title":"pᵥ","titlePadding":11}},
"color":{"field":"w","type":"quantitative","scale":{"domain":[-0.32,0.32],"scheme":"redblue"},"legend":{"orient":"none","legendX":769,"legendY":-25,"title":null,"values":[-0.3,-0.2,-0.1,0,0.1,0.2,0.3],"format":".1f","labelOffset":8,"labelExpr":"datum.value < 0 ? datum.label : '  ' + datum.label"}}}},
{"width":149,"height":149,"title":"Heralded","data":{"name":"c"},"mark":{"type":"rect","width":3.8,"height":7.6,"clip":true},
"encoding":{"x":{"field":"q","type":"quantitative","scale":{"domain":[-5,5],"nice":false},"axis":{"values":[-4,-2,0,2,4],"labels":false,"title":null}},
"y":{"field":"p","type":"quantitative","scale":{"domain":[-5,5],"nice":false},"axis":{"values":[-4,-2,0,2,4],"labels":false,"title":null}},
"color":{"field":"w","type":"quantitative","scale":{"domain":[-0.32,0.32],"scheme":"redblue"},"legend":{"orient":"none","legendX":769,"legendY":-25,"title":null,"values":[-0.3,-0.2,-0.1,0,0.1,0.2,0.3],"format":".1f","labelOffset":8,"labelExpr":"datum.value < 0 ? datum.label : '  ' + datum.label"}}}}
],"spacing":25}
],"spacing":16},
{"hconcat":[
{"width":154,"height":149,"view":{"stroke":null,"fill":null},"data":{"values":[{"t":"|ψ⟩ᵢₙ = |cat_odd⟩ᵤ"}]},"mark":{"type":"text","fontSize":17},"encoding":{"text":{"field":"t","type":"nominal"}}},
{"width":149,"height":149,
"layer":[{"data":{"name":"d"},"mark":{"type":"rect","width":7.6,"height":7.6,"clip":true}},{"data":{"name":"d2"},"mark":{"type":"rect","width":3.8,"height":3.8,"clip":true}}],
"encoding":{"x":{"field":"q","type":"quantitative","scale":{"domain":[-5,5],"nice":false},"axis":{"values":[-4,-2,0,2,4],"title":"qᵤ"}},
"y":{"field":"p","type":"quantitative","scale":{"domain":[-5,5],"nice":false},"axis":{"values":[-4,-2,0,2,4],"title":"pᵤ","titlePadding":2}},
"color":{"field":"w","type":"quantitative","scale":{"domain":[-0.32,0.32],"scheme":"redblue"},"legend":{"orient":"none","legendX":769,"legendY":-25,"title":null,"values":[-0.3,-0.2,-0.1,0,0.1,0.2,0.3],"format":".1f","labelOffset":8,"labelExpr":"datum.value < 0 ? datum.label : '  ' + datum.label"}}}},
{"hconcat":[
{"width":149,"height":149,
"layer":[{"data":{"name":"e"},"mark":{"type":"rect","width":7.6,"height":7.6,"clip":true}},{"data":{"name":"e2"},"mark":{"type":"rect","width":3.8,"height":3.8,"clip":true}}],
"encoding":{"x":{"field":"q","type":"quantitative","scale":{"domain":[-5,5],"nice":false},"axis":{"values":[-4,-2,0,2,4],"title":"qᵥ"}},
"y":{"field":"p","type":"quantitative","scale":{"domain":[-5,5],"nice":false},"axis":{"values":[-4,-2,0,2,4],"labels":false,"title":"pᵥ","titlePadding":11}},
"color":{"field":"w","type":"quantitative","scale":{"domain":[-0.32,0.32],"scheme":"redblue"},"legend":{"orient":"none","legendX":769,"legendY":-25,"title":null,"values":[-0.3,-0.2,-0.1,0,0.1,0.2,0.3],"format":".1f","labelOffset":8,"labelExpr":"datum.value < 0 ? datum.label : '  ' + datum.label"}}}},
{"width":149,"height":149,
"layer":[{"data":{"name":"f"},"mark":{"type":"rect","width":7.6,"height":7.6,"clip":true}},{"data":{"name":"f2"},"mark":{"type":"rect","width":3.8,"height":3.8,"clip":true}}],
"encoding":{"x":{"field":"q","type":"quantitative","scale":{"domain":[-5,5],"nice":false},"axis":{"values":[-4,-2,0,2,4],"title":"qᵥ"}},
"y":{"field":"p","type":"quantitative","scale":{"domain":[-5,5],"nice":false},"axis":{"values":[-4,-2,0,2,4],"labels":false,"title":null}},
"color":{"field":"w","type":"quantitative","scale":{"domain":[-0.32,0.32],"scheme":"redblue"},"legend":{"orient":"none","legendX":769,"legendY":-25,"title":null,"values":[-0.3,-0.2,-0.1,0,0.1,0.2,0.3],"format":".1f","labelOffset":8,"labelExpr":"datum.value < 0 ? datum.label : '  ' + datum.label"}}}}
],"spacing":25}
],"spacing":16}
],"spacing":10},
{"width":80,"height":316,"view":{"stroke":null,"fill":null},"data":{"values":[{"t":"W(q,p)"}]},"mark":{"type":"text","fontSize":17,"fontStyle":"italic"},"encoding":{"text":{"field":"t","type":"nominal"}}}
],
"spacing":97,
"config":{
"font":"DejaVu Serif",
"view":{"stroke":"black","strokeWidth":1.5,"fill":"#f5f6f7"},
"axis":{"grid":false,"domain":false,"tickColor":"black","tickSize":5,"tickWidth":1,"labelFontSize":17,"labelColor":"black","labelFont":"DejaVu Serif","titleFont":"DejaVu Serif","titleFontSize":17,"titleFontWeight":"normal","titleFontStyle":"italic","titleColor":"black","labelPadding":3,"labelFlush":false},
"axisX":{"titlePadding":6,"labelPadding":5},
"axisY":{"titleAngle":0,"titleAlign":"right","titleBaseline":"middle"},
"title":{"fontSize":17,"font":"DejaVu Serif","fontWeight":"normal","color":"black","offset":14},
"text":{"font":"DejaVu Serif"},
"legend":{"direction":"vertical","gradientLength":368,"gradientThickness":20,"gradientStrokeColor":"black","gradientStrokeWidth":1.2,"labelFont":"DejaVu Serif","labelFontSize":17,"labelColor":"black"}
}
}
